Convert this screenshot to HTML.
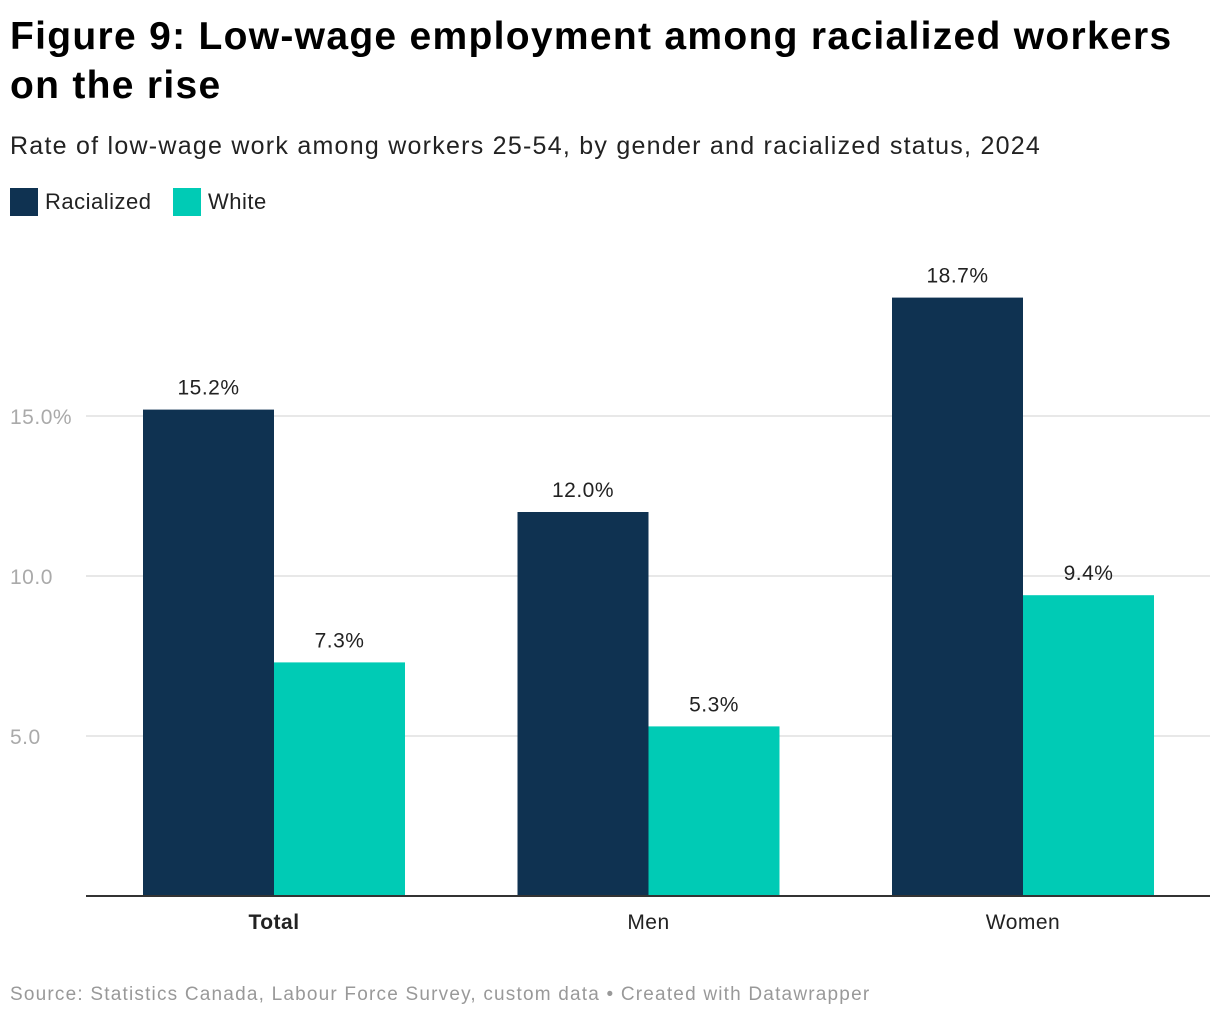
<!DOCTYPE html>
<html><head><meta charset="utf-8"><style>
body{margin:0;background:#fff;font-family:"Liberation Sans",Arial,sans-serif;}
#wrap{position:relative;width:1220px;height:1018px;overflow:hidden}
h1{position:absolute;left:10px;top:12px;margin:0;font-size:39px;line-height:49px;font-weight:bold;color:#000;width:1185px;letter-spacing:1.3px}
.sub{position:absolute;left:10px;top:132px;font-size:25px;color:#222;letter-spacing:1.25px;white-space:nowrap}
.leg{position:absolute;top:188px;font-size:22px;color:#222;display:flex;align-items:center;letter-spacing:0.5px}
.sw{width:28px;height:28px;display:inline-block;margin-right:7px}
.src{position:absolute;left:10px;top:984px;font-size:19px;color:#999;letter-spacing:1.2px;white-space:nowrap}
</style></head><body>
<div id="wrap">
<h1>Figure 9: Low-wage employment among racialized workers on the rise</h1>
<div class="sub">Rate of low-wage work among workers 25-54, by gender and racialized status, 2024</div>
<div class="leg" style="left:10px"><span class="sw" style="background:#0f3251"></span>Racialized</div>
<div class="leg" style="left:173px"><span class="sw" style="background:#00cbb5"></span>White</div>
<svg id="chart" width="1220" height="1018" style="position:absolute;left:0;top:0"></svg>
<div class="src">Source: Statistics Canada, Labour Force Survey, custom data • Created with Datawrapper</div>
</div>
<script>
const categories=["Total","Men","Women"];
const racialized=[15.2,12.0,18.7];
const white=[7.3,5.3,9.4];
const ticks=[5,10,15];
const tickLabels=["5.0","10.0","15.0%"];
const NS="http://www.w3.org/2000/svg";
const svg=document.getElementById('chart');
const y=v=>896-v*32;
const cx=i=>274+i*374.5;
const bw=131;
function mk(t,a){const e=document.createElementNS(NS,t);for(const k in a)e.setAttribute(k,a[k]);svg.appendChild(e);return e;}
ticks.forEach((t,i)=>{
 const g=mk('line',{x1:86,x2:1210,y1:y(t),y2:y(t),stroke:'#e0e0e0','stroke-width':1.5});
 
 
 const l=mk('text',{x:10,y:y(t)+8,'font-size':21,fill:'#aaa','font-family':'Liberation Sans, sans-serif','letter-spacing':0.5});
 l.textContent=tickLabels[i];
 
 
});
const series=[[racialized,'#0f3251',-1,'racialized'],[white,'#00cbb5',0,'white']];
categories.forEach((c,i)=>{
 series.forEach(([vals,col,off,nm])=>{
  const x=cx(i)+off*bw;
  const r=mk('rect',{x:x,y:y(vals[i]),width:bw,height:896-y(vals[i]),fill:col});
  
  
  const t=mk('text',{x:x+bw/2,y:y(vals[i])-15,'text-anchor':'middle','font-size':21,fill:'#222','font-family':'Liberation Sans, sans-serif','letter-spacing':0.5});
  t.textContent=vals[i].toFixed(1)+'%';
  
  
 });
 const xl=mk('text',{x:cx(i),y:929,'text-anchor':'middle','font-size':21,fill:'#222','font-weight':i==0?'bold':'normal','font-family':'Liberation Sans, sans-serif','letter-spacing':0.5});
 xl.textContent=c;
 
 
});
const ax=mk('line',{x1:86,x2:1210,y1:896,y2:896,stroke:'#333','stroke-width':2});


</script>
</body></html>
